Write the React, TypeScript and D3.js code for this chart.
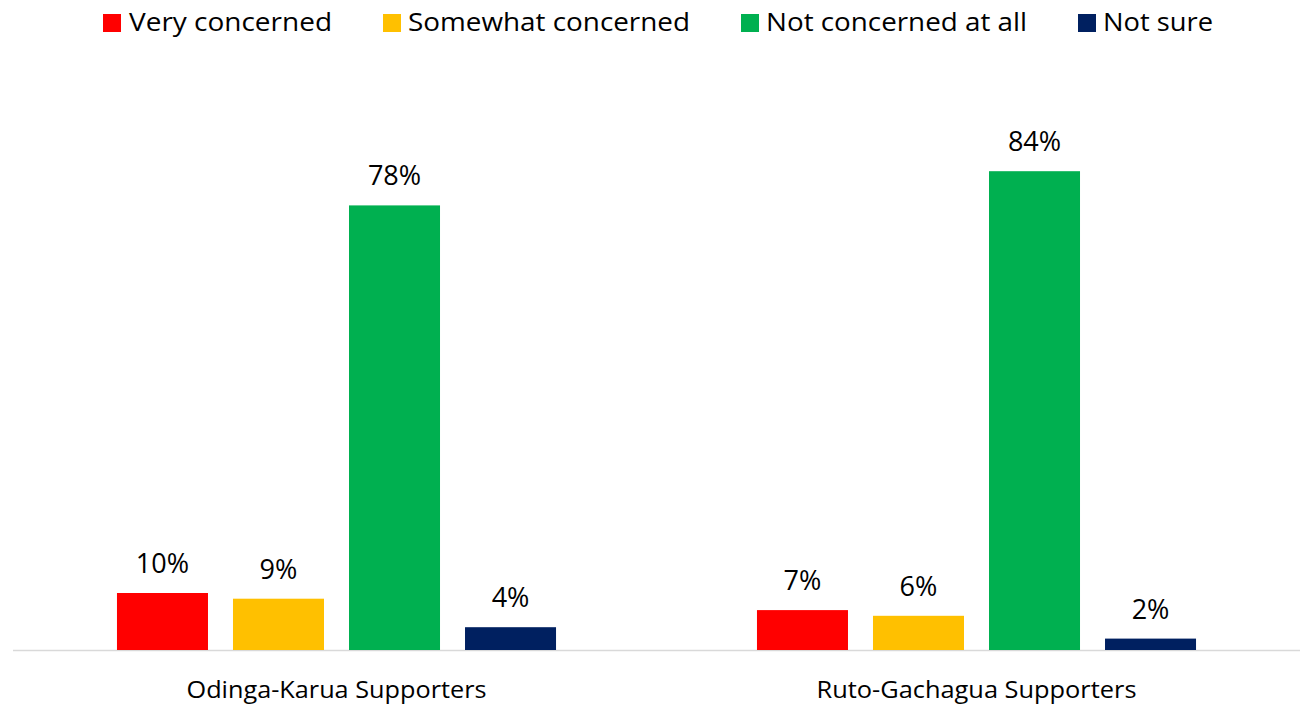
import React from "react";
import * as d3 from "d3";

const categories = ["Odinga-Karua Supporters", "Ruto-Gachagua Supporters"];
const seriesNames = ["Very concerned", "Somewhat concerned", "Not concerned at all", "Not sure"];
const seriesColors = ["#FF0000", "#FFC000", "#00B050", "#002060"];
const veryConcerned = [10, 7];
const somewhatConcerned = [9, 6];
const notConcerned = [78, 84];
const notSure = [4, 2];
const seriesValues = [veryConcerned, somewhatConcerned, notConcerned, notSure];

const W = 1306;
const H = 707;
const FONT = "'Open Sans', 'Noto Sans', sans-serif";

export default function App() {
  const x0 = d3.scaleBand<string>().domain(categories).range([16.5, 1296.5]).paddingInner(0).paddingOuter(0);
  const x1 = d3.scaleBand<string>().domain(seriesNames).range([0, x0.bandwidth()]).paddingInner(0.2155).paddingOuter(0.866);
  const y = d3.scaleLinear().domain([0, 100]).range([650, 80]);

  const legendItems = [
    { x: 103, tx: 129, w: 203 },
    { x: 383, tx: 408, w: 282 },
    { x: 741, tx: 766, w: 261 },
    { x: 1078, tx: 1103, w: 110 },
  ];
  const catWidths = [300, 320];

  return (
    <svg width={W} height={H} style={{ position: "absolute", left: 0, top: 0, background: "#fff" }} fontFamily={FONT}>
      {seriesNames.map((s, i) => (
        <g key={s}>
          <rect x={legendItems[i].x} y={14} width={18} height={18} fill={seriesColors[i]} />
          <text x={legendItems[i].tx} y={31} fontSize={26} fill="#000" textLength={legendItems[i].w} lengthAdjust="spacingAndGlyphs">{s}</text>
        </g>
      ))}
      <line x1={13} x2={1300} y1={y(0) + 0.5} y2={y(0) + 0.5} stroke="#D9D9D9" strokeWidth={1.5} />
      {categories.map((c, ci) => (
        <g key={c} transform={`translate(${x0(c)},0)`}>
          {seriesNames.map((s, si) => {
            const v = seriesValues[si][ci];
            const bx = x1(s)!;
            return (
              <g key={s}>
                <rect x={bx} y={y(v)} width={x1.bandwidth()} height={y(0) - y(v)} fill={seriesColors[si]} />
                <text x={bx + x1.bandwidth() / 2} y={y(v) - 20} textAnchor="middle" fontSize={27} fill="#000">{v}%</text>
              </g>
            );
          })}
          <text x={x0.bandwidth() / 2} y={698} textAnchor="middle" fontSize={24} fill="#000" textLength={catWidths[ci]} lengthAdjust="spacingAndGlyphs">{c}</text>
        </g>
      ))}
    </svg>
  );
}
